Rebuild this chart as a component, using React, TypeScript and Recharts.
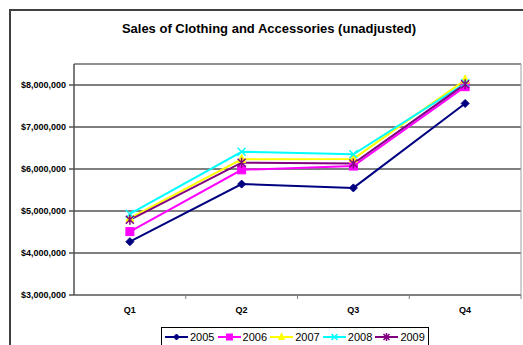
import React from 'react';
import { LineChart, Line, XAxis, YAxis, CartesianGrid, ReferenceLine } from 'recharts';

const QUARTERS = ['Q1', 'Q2', 'Q3', 'Q4'];
const YEARS = ['2005', '2006', '2007', '2008', '2009'];
const S2005 = [4270000, 5640000, 5550000, 7560000];
const S2006 = [4510000, 5980000, 6070000, 7960000];
const S2007 = [4830000, 6230000, 6240000, 8120000];
const S2008 = [4930000, 6410000, 6350000, 8040000];
const S2009 = [4790000, 6150000, 6130000, 8020000];
const Y_TICKS = [3000000, 4000000, 5000000, 6000000, 7000000, 8000000];
const Y_DOMAIN = [3000000, 8500000];
const TITLE = 'Sales of Clothing and Accessories (unadjusted)';

const SERIES = [
  { year: YEARS[0], values: S2005, color: '#000080', shape: 'diamond' },
  { year: YEARS[1], values: S2006, color: '#FF00FF', shape: 'square' },
  { year: YEARS[2], values: S2007, color: '#FFFF00', shape: 'triangle' },
  { year: YEARS[3], values: S2008, color: '#00FFFF', shape: 'x' },
  { year: YEARS[4], values: S2009, color: '#800080', shape: 'star' },
];

const data = QUARTERS.map((q, i) => {
  const row: any = { x: i + 0.5, q };
  SERIES.forEach((s) => {
    row['y' + s.year] = s.values[i];
  });
  return row;
});

const X_TICKS = [0.5, 1, 1.5, 2, 2.5, 3, 3.5, 4];

const fmt = (v: number) => '$' + v.toLocaleString('en-US');

function Marker({ shape, cx, cy, color, s = 4 }: any) {
  if (cx == null || cy == null) return null;
  switch (shape) {
    case 'diamond':
      return (
        <polygon
          points={`${cx},${cy - s} ${cx + s},${cy} ${cx},${cy + s} ${cx - s},${cy}`}
          fill={color}
          stroke={color}
        />
      );
    case 'square':
      return <rect x={cx - s} y={cy - s} width={2 * s} height={2 * s} fill={color} stroke={color} />;
    case 'triangle':
      return (
        <polygon
          points={`${cx},${cy - s - 1} ${cx + s},${cy + s * 0.8} ${cx - s},${cy + s * 0.8}`}
          fill={color}
          stroke={color}
        />
      );
    case 'x':
      return (
        <path
          d={`M${cx - s},${cy - s}L${cx + s},${cy + s}M${cx + s},${cy - s}L${cx - s},${cy + s}`}
          stroke={color}
          strokeWidth={1.5}
          fill="none"
        />
      );
    case 'star':
      return (
        <path
          d={`M${cx - s},${cy - s}L${cx + s},${cy + s}M${cx + s},${cy - s}L${cx - s},${cy + s}M${cx},${cy - s - 1}L${cx},${cy + s + 1}`}
          stroke={color}
          strokeWidth={1.5}
          fill="none"
        />
      );
    default:
      return null;
  }
}

const XTick = (props: any) => {
  const { x, y, payload } = props;
  const v = payload.value;
  if (Number.isInteger(v)) {
    return <line x1={x} x2={x} y1={y} y2={y + 4} stroke="#808080" strokeWidth={1} />;
  }
  return (
    <text
      x={x}
      y={y + 15}
      textAnchor="middle"
      dominantBaseline="central"
      fontSize={9}
      fontWeight="bold"
      fontFamily="Arial, 'Liberation Sans', sans-serif"
      fill="#000"
    >
      {QUARTERS[Math.floor(v)]}
    </text>
  );
};

function LegendBox() {
  return (
    <div
      style={{
        position: 'absolute',
        left: 161,
        top: 327,
        width: 268,
        height: 30,
        border: '1px solid #000',
        background: '#fff',
        display: 'flex',
        paddingLeft: 3,
        boxSizing: 'border-box',
        fontFamily: "Arial, 'Liberation Sans', sans-serif",
        fontSize: 11,
        color: '#000',
      }}
    >
      {SERIES.map((s) => (
        <div key={s.year} style={{ width: 54, height: 18, display: 'flex', alignItems: 'center' }}>
          <svg width={23} height={10} style={{ display: 'block' }}>
            <line x1={0} x2={23} y1={5} y2={5} stroke={s.color} strokeWidth={2} />
            <Marker shape={s.shape} cx={11.5} cy={5} color={s.color} s={3} />
          </svg>
          <span style={{ marginLeft: 2, lineHeight: '18px' }}>{s.year}</span>
        </div>
      ))}
    </div>
  );
}

export default function App() {
  return (
    <div
      style={{
        position: 'absolute',
        left: 0,
        top: 0,
        width: 523,
        height: 345,
        overflow: 'hidden',
        background: '#fff',
      }}
    >
      <div
        style={{
          position: 'absolute',
          left: 9,
          top: 9,
          width: 700,
          height: 500,
          border: '2px solid #404040',
        }}
      />
      <div
        style={{
          position: 'absolute',
          left: 10,
          top: 21,
          width: 518,
          textAlign: 'center',
          fontFamily: "Arial, 'Liberation Sans', sans-serif",
          fontWeight: 'bold',
          fontSize: 13,
          lineHeight: '16px',
          color: '#000',
        }}
      >
        {TITLE}
      </div>
      <div style={{ position: 'absolute', left: 0, top: 0 }}>
        <LineChart width={523} height={345} data={data} margin={{ top: 64, right: 2, left: 10, bottom: 25 }}>
          <CartesianGrid vertical={false} stroke="#000" strokeWidth={1} />
          <ReferenceLine y={Y_DOMAIN[1]} stroke="#a0a0a0" strokeWidth={1} />
          <ReferenceLine x={4} stroke="#a0a0a0" strokeWidth={1} />
          <XAxis
            type="number"
            dataKey="x"
            domain={[0, 4]}
            ticks={X_TICKS}
            interval={0}
            height={25}
            tickSize={0}
            tickMargin={0}
            tickLine={false}
            tick={<XTick />}
            stroke="#808080"
            strokeWidth={1.5}
          />
          <YAxis
            type="number"
            domain={Y_DOMAIN}
            ticks={Y_TICKS}
            interval={0}
            width={64}
            tickSize={5}
            tickMargin={3}
            tickFormatter={fmt}
            stroke="#505050"
            strokeWidth={1.5}
            tick={{
              fontSize: 9,
              fontWeight: 'bold',
              fill: '#000',
              fontFamily: "Arial, 'Liberation Sans', sans-serif",
            }}
          />
          {SERIES.map((s) => (
            <Line
              key={s.year}
              type="linear"
              dataKey={'y' + s.year}
              stroke={s.color}
              strokeWidth={2}
              isAnimationActive={false}
              dot={(p: any) => (
                <Marker key={`${s.year}-${p.index}`} shape={s.shape} cx={p.cx} cy={p.cy} color={s.color} />
              )}
              activeDot={false}
            />
          ))}
        </LineChart>
      </div>
      <LegendBox />
    </div>
  );
}
